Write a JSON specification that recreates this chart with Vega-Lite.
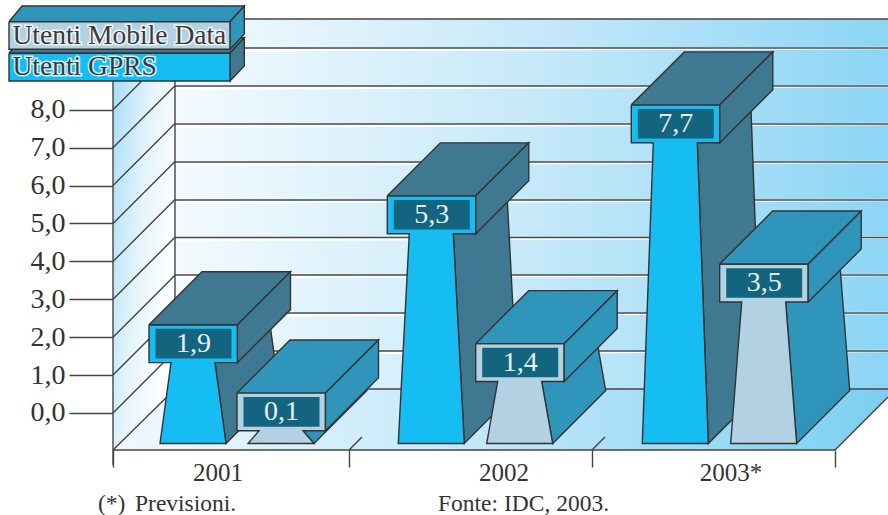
{
  "$schema": "https://vega.github.io/schema/vega-lite/v6.json",
  "width": 888,
  "height": 515,
  "autosize": {"type": "none"},
  "padding": 0,
  "background": "white",
  "config": {"view": {"stroke": null}, "font": "Liberation Serif"},
  "datasets": {
    "wall": [{"x": 0.2576, "x2": 3.2201, "y": 10.396, "y2": 0.633}],
    "side": [
      {"x": 0, "y": -0.976, "i": 0}, {"x": 0, "y": 8.76, "i": 1}, {"x": 0.2576, "y": 10.396, "i": 2}, {"x": 0.2576, "y": 0.633, "i": 3}
    ],
    "floor": [
      {"x": 0, "y": -0.976, "i": 0}, {"x": 3, "y": -0.976, "i": 1}, {"x": 3.2201, "y": 0.422, "i": 2}, {"x": 3.2201, "y": 0.633, "i": 3}, {"x": 0.2576, "y": 0.633, "i": 4}
    ],
    "grid": [
      {"x": 0.2576, "x2": 3.2201, "y": 9.631, "y2": 9.631},
      {"x": 0.2576, "x2": 3.2201, "y": 8.628, "y2": 8.628},
      {"x": 0.2576, "x2": 3.2201, "y": 7.625, "y2": 7.625},
      {"x": 0.2576, "x2": 3.2201, "y": 6.623, "y2": 6.623},
      {"x": 0.2576, "x2": 3.2201, "y": 5.62, "y2": 5.62},
      {"x": 0.2576, "x2": 3.2201, "y": 4.631, "y2": 4.631},
      {"x": 0.2576, "x2": 3.2201, "y": 3.641, "y2": 3.641},
      {"x": 0.2576, "x2": 3.2201, "y": 2.639, "y2": 2.639},
      {"x": 0.2576, "x2": 3.2201, "y": 1.636, "y2": 1.636}
    ],
    "frame": [
      {"x": 0.2576, "x2": 3.2201, "y": 10.396, "y2": 10.396},
      {"x": 0.2576, "x2": 3.2201, "y": 0.633, "y2": 0.633},
      {"x": 0, "x2": 0, "y": 8.76, "y2": -1.372},
      {"x": 0.2576, "x2": 0.2576, "y": 10.396, "y2": 0.633},
      {"x": 0, "x2": 3, "y": -0.976, "y2": -0.976},
      {"x": 0, "x2": 0.2576, "y": -0.976, "y2": 0.633},
      {"x": 0, "x2": 0.2576, "y": 0, "y2": 1.636},
      {"x": 0, "x2": 0.2576, "y": 1, "y2": 2.636},
      {"x": 0, "x2": 0.2576, "y": 2, "y2": 3.636},
      {"x": 0, "x2": 0.2576, "y": 3, "y2": 4.636},
      {"x": 0, "x2": 0.2576, "y": 4, "y2": 5.636},
      {"x": 0, "x2": 0.2576, "y": 5, "y2": 6.636},
      {"x": 0, "x2": 0.2576, "y": 6, "y2": 7.636},
      {"x": 0, "x2": 0.2576, "y": 7, "y2": 8.636},
      {"x": 0, "x2": 0.2576, "y": 8, "y2": 9.636},
      {"x": 3, "x2": 3.2201, "y": -0.976, "y2": 0.422},
      {"x": 0.981, "x2": 1.0346, "y": -0.976, "y2": -0.633},
      {"x": 1.99, "x2": 2.044, "y": -0.976, "y2": -0.633}
    ],
    "solids": [
      {"p": "g01s", "f": "GPRS side", "i": 0, "x": 0.4238, "y": 1.33},
      {"p": "g01s", "f": "GPRS side", "i": 1, "x": 0.4695, "y": -0.805},
      {"p": "g01s", "f": "GPRS side", "i": 2, "x": 0.6897, "y": 0.594},
      {"p": "g01s", "f": "GPRS side", "i": 3, "x": 0.644, "y": 2.728},
      {"p": "g01s", "f": "GPRS side", "i": 4, "x": 0.4238, "y": 1.33},
      {"p": "g01f", "f": "GPRS front", "i": 0, "x": 0.1496, "y": 2.33},
      {"p": "g01f", "f": "GPRS front", "i": 1, "x": 0.5173, "y": 2.33},
      {"p": "g01f", "f": "GPRS front", "i": 2, "x": 0.5173, "y": 1.33},
      {"p": "g01f", "f": "GPRS front", "i": 3, "x": 0.4238, "y": 1.33},
      {"p": "g01f", "f": "GPRS front", "i": 4, "x": 0.4695, "y": -0.805},
      {"p": "g01f", "f": "GPRS front", "i": 5, "x": 0.1953, "y": -0.805},
      {"p": "g01f", "f": "GPRS front", "i": 6, "x": 0.241, "y": 1.33},
      {"p": "g01f", "f": "GPRS front", "i": 7, "x": 0.1496, "y": 1.33},
      {"p": "g01f", "f": "GPRS front", "i": 8, "x": 0.1496, "y": 2.33},
      {"p": "g01t", "f": "GPRS side", "i": 0, "x": 0.1496, "y": 2.33},
      {"p": "g01t", "f": "GPRS side", "i": 1, "x": 0.3698, "y": 3.728},
      {"p": "g01t", "f": "GPRS side", "i": 2, "x": 0.7375, "y": 3.728},
      {"p": "g01t", "f": "GPRS side", "i": 3, "x": 0.5173, "y": 2.33},
      {"p": "g01t", "f": "GPRS side", "i": 4, "x": 0.1496, "y": 2.33},
      {"p": "g01c", "f": "GPRS side", "i": 0, "x": 0.5173, "y": 2.33},
      {"p": "g01c", "f": "GPRS side", "i": 1, "x": 0.7375, "y": 3.728},
      {"p": "g01c", "f": "GPRS side", "i": 2, "x": 0.7375, "y": 2.728},
      {"p": "g01c", "f": "GPRS side", "i": 3, "x": 0.5173, "y": 1.33},
      {"p": "g01c", "f": "GPRS side", "i": 4, "x": 0.5173, "y": 2.33},

      {"p": "m01s", "f": "Mobile side", "i": 0, "x": 0.7894, "y": -0.47},
      {"p": "m01s", "f": "Mobile side", "i": 1, "x": 0.8351, "y": -0.805},
      {"p": "m01s", "f": "Mobile side", "i": 2, "x": 1.0553, "y": 0.594},
      {"p": "m01s", "f": "Mobile side", "i": 3, "x": 1.0096, "y": 0.928},
      {"p": "m01s", "f": "Mobile side", "i": 4, "x": 0.7894, "y": -0.47},
      {"p": "m01f", "f": "Mobile front", "i": 0, "x": 0.5152, "y": 0.53},
      {"p": "m01f", "f": "Mobile front", "i": 1, "x": 0.8829, "y": 0.53},
      {"p": "m01f", "f": "Mobile front", "i": 2, "x": 0.8829, "y": -0.47},
      {"p": "m01f", "f": "Mobile front", "i": 3, "x": 0.7894, "y": -0.47},
      {"p": "m01f", "f": "Mobile front", "i": 4, "x": 0.8351, "y": -0.805},
      {"p": "m01f", "f": "Mobile front", "i": 5, "x": 0.5609, "y": -0.805},
      {"p": "m01f", "f": "Mobile front", "i": 6, "x": 0.6066, "y": -0.47},
      {"p": "m01f", "f": "Mobile front", "i": 7, "x": 0.5152, "y": -0.47},
      {"p": "m01f", "f": "Mobile front", "i": 8, "x": 0.5152, "y": 0.53},
      {"p": "m01t", "f": "Mobile side", "i": 0, "x": 0.5152, "y": 0.53},
      {"p": "m01t", "f": "Mobile side", "i": 1, "x": 0.7354, "y": 1.928},
      {"p": "m01t", "f": "Mobile side", "i": 2, "x": 1.1031, "y": 1.928},
      {"p": "m01t", "f": "Mobile side", "i": 3, "x": 0.8829, "y": 0.53},
      {"p": "m01t", "f": "Mobile side", "i": 4, "x": 0.5152, "y": 0.53},
      {"p": "m01c", "f": "Mobile side", "i": 0, "x": 0.8829, "y": 0.53},
      {"p": "m01c", "f": "Mobile side", "i": 1, "x": 1.1031, "y": 1.928},
      {"p": "m01c", "f": "Mobile side", "i": 2, "x": 1.1031, "y": 0.928},
      {"p": "m01c", "f": "Mobile side", "i": 3, "x": 0.8829, "y": -0.47},
      {"p": "m01c", "f": "Mobile side", "i": 4, "x": 0.8829, "y": 0.53},

      {"p": "g02s", "f": "GPRS side", "i": 0, "x": 1.4139, "y": 4.73},
      {"p": "g02s", "f": "GPRS side", "i": 1, "x": 1.4596, "y": -0.805},
      {"p": "g02s", "f": "GPRS side", "i": 2, "x": 1.6798, "y": 0.594},
      {"p": "g02s", "f": "GPRS side", "i": 3, "x": 1.6341, "y": 6.128},
      {"p": "g02s", "f": "GPRS side", "i": 4, "x": 1.4139, "y": 4.73},
      {"p": "g02f", "f": "GPRS front", "i": 0, "x": 1.1397, "y": 5.73},
      {"p": "g02f", "f": "GPRS front", "i": 1, "x": 1.5074, "y": 5.73},
      {"p": "g02f", "f": "GPRS front", "i": 2, "x": 1.5074, "y": 4.73},
      {"p": "g02f", "f": "GPRS front", "i": 3, "x": 1.4139, "y": 4.73},
      {"p": "g02f", "f": "GPRS front", "i": 4, "x": 1.4596, "y": -0.805},
      {"p": "g02f", "f": "GPRS front", "i": 5, "x": 1.1854, "y": -0.805},
      {"p": "g02f", "f": "GPRS front", "i": 6, "x": 1.2311, "y": 4.73},
      {"p": "g02f", "f": "GPRS front", "i": 7, "x": 1.1397, "y": 4.73},
      {"p": "g02f", "f": "GPRS front", "i": 8, "x": 1.1397, "y": 5.73},
      {"p": "g02t", "f": "GPRS side", "i": 0, "x": 1.1397, "y": 5.73},
      {"p": "g02t", "f": "GPRS side", "i": 1, "x": 1.3599, "y": 7.128},
      {"p": "g02t", "f": "GPRS side", "i": 2, "x": 1.7276, "y": 7.128},
      {"p": "g02t", "f": "GPRS side", "i": 3, "x": 1.5074, "y": 5.73},
      {"p": "g02t", "f": "GPRS side", "i": 4, "x": 1.1397, "y": 5.73},
      {"p": "g02c", "f": "GPRS side", "i": 0, "x": 1.5074, "y": 5.73},
      {"p": "g02c", "f": "GPRS side", "i": 1, "x": 1.7276, "y": 7.128},
      {"p": "g02c", "f": "GPRS side", "i": 2, "x": 1.7276, "y": 6.128},
      {"p": "g02c", "f": "GPRS side", "i": 3, "x": 1.5074, "y": 4.73},
      {"p": "g02c", "f": "GPRS side", "i": 4, "x": 1.5074, "y": 5.73},

      {"p": "m02s", "f": "Mobile side", "i": 0, "x": 1.7812, "y": 0.83},
      {"p": "m02s", "f": "Mobile side", "i": 1, "x": 1.8269, "y": -0.805},
      {"p": "m02s", "f": "Mobile side", "i": 2, "x": 2.0471, "y": 0.594},
      {"p": "m02s", "f": "Mobile side", "i": 3, "x": 2.0014, "y": 2.228},
      {"p": "m02s", "f": "Mobile side", "i": 4, "x": 1.7812, "y": 0.83},
      {"p": "m02f", "f": "Mobile front", "i": 0, "x": 1.507, "y": 1.83},
      {"p": "m02f", "f": "Mobile front", "i": 1, "x": 1.8747, "y": 1.83},
      {"p": "m02f", "f": "Mobile front", "i": 2, "x": 1.8747, "y": 0.83},
      {"p": "m02f", "f": "Mobile front", "i": 3, "x": 1.7812, "y": 0.83},
      {"p": "m02f", "f": "Mobile front", "i": 4, "x": 1.8269, "y": -0.805},
      {"p": "m02f", "f": "Mobile front", "i": 5, "x": 1.5527, "y": -0.805},
      {"p": "m02f", "f": "Mobile front", "i": 6, "x": 1.5984, "y": 0.83},
      {"p": "m02f", "f": "Mobile front", "i": 7, "x": 1.507, "y": 0.83},
      {"p": "m02f", "f": "Mobile front", "i": 8, "x": 1.507, "y": 1.83},
      {"p": "m02t", "f": "Mobile side", "i": 0, "x": 1.507, "y": 1.83},
      {"p": "m02t", "f": "Mobile side", "i": 1, "x": 1.7272, "y": 3.228},
      {"p": "m02t", "f": "Mobile side", "i": 2, "x": 2.0949, "y": 3.228},
      {"p": "m02t", "f": "Mobile side", "i": 3, "x": 1.8747, "y": 1.83},
      {"p": "m02t", "f": "Mobile side", "i": 4, "x": 1.507, "y": 1.83},
      {"p": "m02c", "f": "Mobile side", "i": 0, "x": 1.8747, "y": 1.83},
      {"p": "m02c", "f": "Mobile side", "i": 1, "x": 2.0949, "y": 3.228},
      {"p": "m02c", "f": "Mobile side", "i": 2, "x": 2.0949, "y": 2.228},
      {"p": "m02c", "f": "Mobile side", "i": 3, "x": 1.8747, "y": 0.83},
      {"p": "m02c", "f": "Mobile side", "i": 4, "x": 1.8747, "y": 1.83},

      {"p": "g03s", "f": "GPRS side", "i": 0, "x": 2.4277, "y": 7.13},
      {"p": "g03s", "f": "GPRS side", "i": 1, "x": 2.4734, "y": -0.805},
      {"p": "g03s", "f": "GPRS side", "i": 2, "x": 2.6936, "y": 0.594},
      {"p": "g03s", "f": "GPRS side", "i": 3, "x": 2.6479, "y": 8.528},
      {"p": "g03s", "f": "GPRS side", "i": 4, "x": 2.4277, "y": 7.13},
      {"p": "g03f", "f": "GPRS front", "i": 0, "x": 2.1535, "y": 8.13},
      {"p": "g03f", "f": "GPRS front", "i": 1, "x": 2.5212, "y": 8.13},
      {"p": "g03f", "f": "GPRS front", "i": 2, "x": 2.5212, "y": 7.13},
      {"p": "g03f", "f": "GPRS front", "i": 3, "x": 2.4277, "y": 7.13},
      {"p": "g03f", "f": "GPRS front", "i": 4, "x": 2.4734, "y": -0.805},
      {"p": "g03f", "f": "GPRS front", "i": 5, "x": 2.1992, "y": -0.805},
      {"p": "g03f", "f": "GPRS front", "i": 6, "x": 2.2449, "y": 7.13},
      {"p": "g03f", "f": "GPRS front", "i": 7, "x": 2.1535, "y": 7.13},
      {"p": "g03f", "f": "GPRS front", "i": 8, "x": 2.1535, "y": 8.13},
      {"p": "g03t", "f": "GPRS side", "i": 0, "x": 2.1535, "y": 8.13},
      {"p": "g03t", "f": "GPRS side", "i": 1, "x": 2.3737, "y": 9.528},
      {"p": "g03t", "f": "GPRS side", "i": 2, "x": 2.7414, "y": 9.528},
      {"p": "g03t", "f": "GPRS side", "i": 3, "x": 2.5212, "y": 8.13},
      {"p": "g03t", "f": "GPRS side", "i": 4, "x": 2.1535, "y": 8.13},
      {"p": "g03c", "f": "GPRS side", "i": 0, "x": 2.5212, "y": 8.13},
      {"p": "g03c", "f": "GPRS side", "i": 1, "x": 2.7414, "y": 9.528},
      {"p": "g03c", "f": "GPRS side", "i": 2, "x": 2.7414, "y": 8.528},
      {"p": "g03c", "f": "GPRS side", "i": 3, "x": 2.5212, "y": 7.13},
      {"p": "g03c", "f": "GPRS side", "i": 4, "x": 2.5212, "y": 8.13},

      {"p": "m03s", "f": "Mobile side", "i": 0, "x": 2.795, "y": 2.93},
      {"p": "m03s", "f": "Mobile side", "i": 1, "x": 2.8407, "y": -0.805},
      {"p": "m03s", "f": "Mobile side", "i": 2, "x": 3.0609, "y": 0.594},
      {"p": "m03s", "f": "Mobile side", "i": 3, "x": 3.0152, "y": 4.328},
      {"p": "m03s", "f": "Mobile side", "i": 4, "x": 2.795, "y": 2.93},
      {"p": "m03f", "f": "Mobile front", "i": 0, "x": 2.5208, "y": 3.93},
      {"p": "m03f", "f": "Mobile front", "i": 1, "x": 2.8885, "y": 3.93},
      {"p": "m03f", "f": "Mobile front", "i": 2, "x": 2.8885, "y": 2.93},
      {"p": "m03f", "f": "Mobile front", "i": 3, "x": 2.795, "y": 2.93},
      {"p": "m03f", "f": "Mobile front", "i": 4, "x": 2.8407, "y": -0.805},
      {"p": "m03f", "f": "Mobile front", "i": 5, "x": 2.5665, "y": -0.805},
      {"p": "m03f", "f": "Mobile front", "i": 6, "x": 2.6122, "y": 2.93},
      {"p": "m03f", "f": "Mobile front", "i": 7, "x": 2.5208, "y": 2.93},
      {"p": "m03f", "f": "Mobile front", "i": 8, "x": 2.5208, "y": 3.93},
      {"p": "m03t", "f": "Mobile side", "i": 0, "x": 2.5208, "y": 3.93},
      {"p": "m03t", "f": "Mobile side", "i": 1, "x": 2.741, "y": 5.328},
      {"p": "m03t", "f": "Mobile side", "i": 2, "x": 3.1087, "y": 5.328},
      {"p": "m03t", "f": "Mobile side", "i": 3, "x": 2.8885, "y": 3.93},
      {"p": "m03t", "f": "Mobile side", "i": 4, "x": 2.5208, "y": 3.93},
      {"p": "m03c", "f": "Mobile side", "i": 0, "x": 2.8885, "y": 3.93},
      {"p": "m03c", "f": "Mobile side", "i": 1, "x": 3.1087, "y": 5.328},
      {"p": "m03c", "f": "Mobile side", "i": 2, "x": 3.1087, "y": 4.328},
      {"p": "m03c", "f": "Mobile side", "i": 3, "x": 2.8885, "y": 2.93},
      {"p": "m03c", "f": "Mobile side", "i": 4, "x": 2.8885, "y": 3.93},

      {"p": "lgt", "f": "GPRS side", "i": 0, "x": -0.4321, "y": 9.491},
      {"p": "lgt", "f": "GPRS side", "i": 1, "x": -0.3781, "y": 9.902},
      {"p": "lgt", "f": "GPRS side", "i": 2, "x": 0.5456, "y": 9.902},
      {"p": "lgt", "f": "GPRS side", "i": 3, "x": 0.4861, "y": 9.491},
      {"p": "lgt", "f": "GPRS side", "i": 4, "x": -0.4321, "y": 9.491},
      {"p": "lgc", "f": "GPRS side", "i": 0, "x": 0.4861, "y": 9.491},
      {"p": "lgc", "f": "GPRS side", "i": 1, "x": 0.5456, "y": 9.902},
      {"p": "lgc", "f": "GPRS side", "i": 2, "x": 0.5456, "y": 9.156},
      {"p": "lgc", "f": "GPRS side", "i": 3, "x": 0.4861, "y": 8.76},
      {"p": "lgc", "f": "GPRS side", "i": 4, "x": 0.4861, "y": 9.491},
      {"p": "lgf", "f": "GPRS front", "i": 0, "x": -0.4321, "y": 9.491},
      {"p": "lgf", "f": "GPRS front", "i": 1, "x": 0.4861, "y": 9.491},
      {"p": "lgf", "f": "GPRS front", "i": 2, "x": 0.4861, "y": 8.76},
      {"p": "lgf", "f": "GPRS front", "i": 3, "x": -0.4321, "y": 8.76},
      {"p": "lgf", "f": "GPRS front", "i": 4, "x": -0.4321, "y": 9.491},
      {"p": "lmt", "f": "Mobile side", "i": 0, "x": -0.4321, "y": 10.325},
      {"p": "lmt", "f": "Mobile side", "i": 1, "x": -0.3781, "y": 10.739},
      {"p": "lmt", "f": "Mobile side", "i": 2, "x": 0.5456, "y": 10.739},
      {"p": "lmt", "f": "Mobile side", "i": 3, "x": 0.4861, "y": 10.325},
      {"p": "lmt", "f": "Mobile side", "i": 4, "x": -0.4321, "y": 10.325},
      {"p": "lmc", "f": "Mobile side", "i": 0, "x": 0.4861, "y": 10.325},
      {"p": "lmc", "f": "Mobile side", "i": 1, "x": 0.5456, "y": 10.739},
      {"p": "lmc", "f": "Mobile side", "i": 2, "x": 0.5456, "y": 10},
      {"p": "lmc", "f": "Mobile side", "i": 3, "x": 0.4861, "y": 9.596},
      {"p": "lmc", "f": "Mobile side", "i": 4, "x": 0.4861, "y": 10.325},
      {"p": "lmf", "f": "Mobile front", "i": 0, "x": -0.4321, "y": 10.325},
      {"p": "lmf", "f": "Mobile front", "i": 1, "x": 0.4861, "y": 10.325},
      {"p": "lmf", "f": "Mobile front", "i": 2, "x": 0.4861, "y": 9.596},
      {"p": "lmf", "f": "Mobile front", "i": 3, "x": -0.4321, "y": 9.596},
      {"p": "lmf", "f": "Mobile front", "i": 4, "x": -0.4321, "y": 10.325}
    ],
    "values": [
      {"year": "2001", "series": "Utenti GPRS", "value": 1.9, "label": "1,9", "x": 0.3345, "x0": 0.1766, "x2": 0.4924, "top": 2.22, "bottom": 1.44},
      {"year": "2001", "series": "Utenti Mobile Data", "value": 0.1, "label": "0,1", "x": 0.7001, "x0": 0.5422, "x2": 0.858, "top": 0.42, "bottom": -0.36},
      {"year": "2002", "series": "Utenti GPRS", "value": 5.3, "label": "5,3", "x": 1.3246, "x0": 1.1667, "x2": 1.4825, "top": 5.62, "bottom": 4.84},
      {"year": "2002", "series": "Utenti Mobile Data", "value": 1.4, "label": "1,4", "x": 1.6919, "x0": 1.534, "x2": 1.8498, "top": 1.72, "bottom": 0.94},
      {"year": "2003*", "series": "Utenti GPRS", "value": 7.7, "label": "7,7", "x": 2.3384, "x0": 2.1805, "x2": 2.4963, "top": 8.02, "bottom": 7.24},
      {"year": "2003*", "series": "Utenti Mobile Data", "value": 3.5, "label": "3,5", "x": 2.7057, "x0": 2.5478, "x2": 2.8636, "top": 3.82, "bottom": 3.04}
    ],
    "years": [
      {"text": "2001", "x": 0.4363, "y": -1.583},
      {"text": "2002", "x": 1.6246, "y": -1.583},
      {"text": "2003*", "x": 2.5678, "y": -1.583}
    ],
    "notes": [
      {"text": "(*)", "x": -0.0623, "y": -2.4},
      {"text": "Previsioni.", "x": 0.0914, "y": -2.4},
      {"text": "Fonte: IDC, 2003.", "x": 1.3504, "y": -2.4}
    ],
    "legend": [
      {"text": "Utenti Mobile Data", "x": -0.4176, "y": 9.96},
      {"text": "Utenti GPRS", "x": -0.4176, "y": 9.129}
    ]
  },
  "encoding": {
    "x": {
      "field": "x",
      "type": "quantitative",
      "scale": {"domain": [-0.4695, 3.2201], "nice": false, "zero": false},
      "axis": {
        "title": null,
        "orient": "bottom",
        "offset": -65,
        "values": [0, 0.981, 1.99, 3],
        "labels": false,
        "grid": false,
        "domain": false,
        "tickSize": 17,
        "tickColor": "#444444",
        "tickWidth": 1.4
      }
    },
    "y": {
      "field": "y",
      "type": "quantitative",
      "scale": {"domain": [-2.6913, 10.897], "nice": false, "zero": false},
      "axis": {
        "title": null,
        "orient": "left",
        "offset": -113,
        "values": [0, 1, 2, 3, 4, 5, 6, 7, 8],
        "labelExpr": "replace(format(datum.value, '.1f'), '.', ',')",
        "labelFont": "Liberation Serif",
        "labelFontSize": 28,
        "labelColor": "#333333",
        "labelPadding": 4,
        "grid": false,
        "domain": false,
        "tickSize": 44,
        "tickColor": "#444444",
        "tickWidth": 1.4
      }
    }
  },
  "layer": [
    {
      "data": {"name": "wall"},
      "mark": {
        "type": "rect",
        "fill": {"gradient": "linear", "x1": 0, "x2": 1, "y1": 0, "y2": 0, "stops": [
          {"offset": 0, "color": "#f3fafe"},
          {"offset": 0.5, "color": "#c6e9f9"},
          {"offset": 1, "color": "#8cd5f5"}
        ]}
      },
      "encoding": {"x2": {"field": "x2"}, "y2": {"field": "y2"}}
    },
    {
      "data": {"name": "grid"},
      "mark": {"type": "rule", "stroke": "#ffffff", "strokeWidth": 2.5, "yOffset": 2.5},
      "encoding": {"x2": {"field": "x2"}, "y2": {"field": "y2"}}
    },
    {
      "data": {"name": "grid"},
      "mark": {"type": "rule", "stroke": "#4a4a4a", "strokeWidth": 1.6},
      "encoding": {"x2": {"field": "x2"}, "y2": {"field": "y2"}}
    },
    {
      "data": {"name": "side"},
      "mark": {
        "type": "line",
        "strokeWidth": 0,
        "fill": {"gradient": "linear", "x1": 0, "x2": 1, "y1": 0, "y2": 0.6, "stops": [
          {"offset": 0, "color": "#a0daf5"},
          {"offset": 0.55, "color": "#e6f5fc"},
          {"offset": 1, "color": "#ffffff"}
        ]}
      },
      "encoding": {"order": {"field": "i"}}
    },
    {
      "data": {"name": "floor"},
      "mark": {
        "type": "line",
        "strokeWidth": 0,
        "fill": {"gradient": "linear", "x1": 0, "x2": 1, "y1": 0, "y2": 0, "stops": [
          {"offset": 0, "color": "#f0f9fe"},
          {"offset": 0.5, "color": "#bfe7f9"},
          {"offset": 1, "color": "#7ccff2"}
        ]}
      },
      "encoding": {"order": {"field": "i"}}
    },
    {
      "data": {"name": "frame"},
      "mark": {"type": "rule", "stroke": "#444444", "strokeWidth": 1.4},
      "encoding": {"x2": {"field": "x2"}, "y2": {"field": "y2"}}
    },
    {
      "data": {"name": "solids"},
      "mark": {"type": "line", "stroke": "#333333", "strokeWidth": 1.4, "strokeJoin": "miter"},
      "encoding": {
        "detail": {"field": "p"},
        "order": {"field": "i"},
        "fill": {
          "field": "f",
          "type": "nominal",
          "legend": null,
          "scale": {
            "domain": ["GPRS front", "GPRS side", "Mobile front", "Mobile side"],
            "range": ["#16bdf3", "#3f7891", "#b2d2e3", "#2f95bb"]
          }
        }
      }
    },
    {
      "data": {"name": "values"},
      "mark": {"type": "rect", "fill": "#13657f"},
      "encoding": {
        "x": {"field": "x0"},
        "x2": {"field": "x2"},
        "y": {"field": "top"},
        "y2": {"field": "bottom"}
      }
    },
    {
      "data": {"name": "values"},
      "mark": {"type": "text", "font": "Liberation Serif", "fontSize": 28, "fill": "#e6f0f4", "align": "center", "baseline": "middle", "dy": 3},
      "encoding": {"y": {"field": "value"}, "text": {"field": "label"}}
    },
    {
      "data": {"name": "years"},
      "mark": {"type": "text", "font": "Liberation Serif", "fontSize": 25, "fill": "#333333", "align": "center", "baseline": "middle"},
      "encoding": {"text": {"field": "text"}}
    },
    {
      "data": {"name": "notes"},
      "mark": {"type": "text", "font": "Liberation Serif", "fontSize": 23.5, "fill": "#333333", "align": "left", "baseline": "middle"},
      "encoding": {"text": {"field": "text"}}
    },
    {
      "data": {"name": "legend"},
      "mark": {"type": "text", "font": "Liberation Serif", "fontSize": 27.5, "fill": "#ffffff", "stroke": "#ffffff", "strokeWidth": 3, "align": "left", "baseline": "middle", "opacity": 0.8},
      "encoding": {"text": {"field": "text"}}
    },
    {
      "data": {"name": "legend"},
      "mark": {"type": "text", "font": "Liberation Serif", "fontSize": 27.5, "fill": "#3a3a3a", "align": "left", "baseline": "middle"},
      "encoding": {"text": {"field": "text"}}
    }
  ]
}
